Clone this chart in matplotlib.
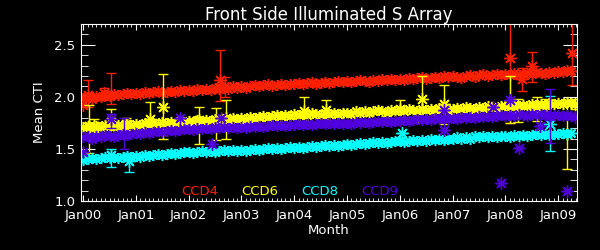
import matplotlib
matplotlib.use("Agg")
import matplotlib.pyplot as plt
import numpy as np
from matplotlib.ticker import MultipleLocator

# monthly mean CTI, Jan 2000 .. Apr 2009
ccd4 = [1.99, 2.00, 1.98, 2.01, 2.00, 2.02, 2.01, 2.03, 2.02, 2.03, 2.04, 2.03,
        2.04, 2.03, 2.05, 2.04, 2.05, 2.06, 2.04, 2.05, 2.06, 2.05, 2.07, 2.06,
        2.07, 2.06, 2.08, 2.07, 2.08, 2.07, 2.09, 2.08, 2.09, 2.08, 2.10, 2.09,
        2.10, 2.09, 2.10, 2.11, 2.10, 2.11, 2.12, 2.10, 2.11, 2.12, 2.11, 2.12,
        2.12, 2.13, 2.12, 2.13, 2.14, 2.12, 2.13, 2.14, 2.13, 2.14, 2.15, 2.14,
        2.15, 2.14, 2.15, 2.16, 2.15, 2.14, 2.16, 2.15, 2.17, 2.16, 2.17, 2.16,
        2.17, 2.16, 2.18, 2.17, 2.18, 2.19, 2.17, 2.18, 2.19, 2.18, 2.20, 2.19,
        2.20, 2.19, 2.18, 2.20, 2.21, 2.19, 2.21, 2.22, 2.20, 2.21, 2.22, 2.21,
        2.22, 2.21, 2.23, 2.21, 2.22, 2.23, 2.22, 2.24, 2.23, 2.22, 2.24, 2.23,
        2.25, 2.24, 2.26, 2.25]
ccd6 = [1.71, 1.72, 1.70, 1.72, 1.71, 1.73, 1.72, 1.71, 1.73, 1.72, 1.74, 1.73,
        1.74, 1.73, 1.75, 1.74, 1.75, 1.74, 1.76, 1.75, 1.76, 1.75, 1.77, 1.76,
        1.77, 1.76, 1.78, 1.77, 1.78, 1.77, 1.79, 1.78, 1.79, 1.78, 1.80, 1.79,
        1.80, 1.79, 1.81, 1.80, 1.81, 1.82, 1.81, 1.82, 1.83, 1.82, 1.83, 1.82,
        1.84, 1.83, 1.84, 1.83, 1.85, 1.84, 1.83, 1.85, 1.84, 1.85, 1.84, 1.85,
        1.85, 1.84, 1.86, 1.85, 1.86, 1.85, 1.86, 1.87, 1.86, 1.85, 1.87, 1.86,
        1.87, 1.86, 1.88, 1.87, 1.86, 1.88, 1.87, 1.88, 1.87, 1.89, 1.88, 1.87,
        1.88, 1.89, 1.88, 1.90, 1.89, 1.88, 1.90, 1.89, 1.91, 1.90, 1.89, 1.91,
        1.91, 1.90, 1.92, 1.91, 1.92, 1.91, 1.93, 1.92, 1.93, 1.92, 1.94, 1.93,
        1.94, 1.93, 1.95, 1.94]
ccd8 = [1.39, 1.40, 1.41, 1.40, 1.41, 1.42, 1.41, 1.42, 1.41, 1.42, 1.43, 1.42,
        1.43, 1.42, 1.44, 1.43, 1.44, 1.45, 1.44, 1.45, 1.46, 1.45, 1.46, 1.47,
        1.47, 1.46, 1.47, 1.48, 1.47, 1.48, 1.47, 1.48, 1.49, 1.48, 1.49, 1.48,
        1.49, 1.48, 1.49, 1.50, 1.49, 1.50, 1.51, 1.50, 1.51, 1.50, 1.51, 1.52,
        1.51, 1.52, 1.51, 1.52, 1.53, 1.52, 1.53, 1.54, 1.53, 1.54, 1.53, 1.54,
        1.55, 1.54, 1.55, 1.56, 1.55, 1.56, 1.57, 1.56, 1.57, 1.56, 1.57, 1.58,
        1.58, 1.57, 1.58, 1.59, 1.58, 1.59, 1.58, 1.60, 1.59, 1.60, 1.59, 1.60,
        1.60, 1.61, 1.60, 1.61, 1.60, 1.62, 1.61, 1.62, 1.61, 1.62, 1.61, 1.62,
        1.62, 1.61, 1.63, 1.62, 1.63, 1.62, 1.63, 1.64, 1.63, 1.64, 1.63, 1.64,
        1.64, 1.65, 1.64, 1.65]
ccd9 = [1.61, 1.62, 1.60, 1.62, 1.61, 1.63, 1.62, 1.61, 1.63, 1.64, 1.63, 1.64,
        1.65, 1.64, 1.66, 1.65, 1.66, 1.67, 1.66, 1.67, 1.68, 1.67, 1.68, 1.69,
        1.69, 1.68, 1.70, 1.69, 1.70, 1.69, 1.71, 1.70, 1.71, 1.70, 1.71, 1.70,
        1.71, 1.70, 1.72, 1.71, 1.72, 1.71, 1.72, 1.73, 1.72, 1.73, 1.72, 1.73,
        1.73, 1.74, 1.73, 1.74, 1.73, 1.74, 1.75, 1.74, 1.75, 1.74, 1.75, 1.74,
        1.75, 1.74, 1.76, 1.75, 1.76, 1.75, 1.76, 1.77, 1.76, 1.77, 1.76, 1.77,
        1.77, 1.78, 1.77, 1.78, 1.79, 1.78, 1.79, 1.78, 1.80, 1.79, 1.80, 1.79,
        1.80, 1.79, 1.81, 1.80, 1.81, 1.80, 1.82, 1.81, 1.82, 1.81, 1.82, 1.83,
        1.82, 1.83, 1.82, 1.84, 1.83, 1.82, 1.84, 1.83, 1.84, 1.83, 1.82, 1.83,
        1.83, 1.82, 1.83, 1.82]

# scattered points with error bars (years since Jan00, value, low, high)
ccd4_ex = [0.0, 0.10, 0.40, 0.53, 2.59, 2.68, 8.09, 8.31, 8.50, 9.26]
ccd4_ey = [1.92, 2.02, 2.04, 2.02, 2.16, 2.10, 2.37, 2.17, 2.30, 2.42]
ccd4_lo = [1.92, 1.90, 1.97, 1.93, 1.96, 2.00, 1.75, 2.06, 2.14, 2.11]
ccd4_hi = [1.92, 2.16, 2.09, 2.23, 2.45, 2.19, 2.75, 2.28, 2.43, 2.75]

ccd6_ex = [0.11, 0.21, 0.53, 0.81, 1.27, 1.52, 2.20, 2.52, 2.71, 4.19,
           4.60, 6.00, 6.42, 6.84, 8.09, 8.24, 8.60, 8.77, 9.17, 9.32]
ccd6_ey = [1.72, 1.72, 1.76, 1.74, 1.79, 1.90, 1.78, 1.78, 1.80, 1.86,
           1.87, 1.88, 1.98, 1.93, 1.90, 1.88, 1.90, 1.92, 1.64, 1.93]
ccd6_lo = [1.46, 1.66, 1.70, 1.68, 1.66, 1.60, 1.55, 1.59, 1.60, 1.76,
           1.78, 1.80, 1.76, 1.74, 1.75, 1.76, 1.77, 1.85, 1.31, 1.88]
ccd6_hi = [1.92, 1.79, 1.88, 1.80, 1.95, 2.22, 1.90, 1.89, 1.97, 2.00,
           1.97, 1.97, 2.20, 2.11, 2.20, 1.98, 2.00, 1.98, 1.97, 1.98]

ccd8_ex = [0.53, 0.87, 6.04, 8.84]
ccd8_ey = [1.44, 1.38, 1.65, 1.74]
ccd8_lo = [1.33, 1.28, 1.65, 1.48]
ccd8_hi = [1.50, 1.46, 1.65, 2.01]

ccd9_ex = [0.0, 0.53, 0.78, 1.84, 2.44, 2.61, 6.84, 6.84, 7.76, 7.92,
           8.09, 8.26, 8.65, 8.84, 9.17, 9.32]
ccd9_ey = [1.47, 1.79, 1.63, 1.80, 1.55, 1.80, 1.87, 1.68, 1.90, 1.17,
           1.97, 1.51, 1.72, 1.82, 1.10, 1.81]
ccd9_lo = [1.47, 1.70, 1.50, 1.80, 1.55, 1.80, 1.87, 1.68, 1.90, 1.17,
           1.97, 1.51, 1.72, 1.56, 1.10, 1.81]
ccd9_hi = [1.47, 1.84, 1.80, 1.80, 1.55, 1.80, 1.87, 1.68, 1.90, 1.17,
           1.97, 1.51, 1.72, 2.08, 1.10, 1.81]

names = ['CCD4', 'CCD6', 'CCD8', 'CCD9']
colors = ['#ff2000', '#ffff00', '#00ffff', '#5000dc']
tick_labels = ['Jan00', 'Jan01', 'Jan02', 'Jan03', 'Jan04',
               'Jan05', 'Jan06', 'Jan07', 'Jan08', 'Jan09']

series = [ccd4, ccd6, ccd8, ccd9]
extras = [(ccd4_ex, ccd4_ey, ccd4_lo, ccd4_hi),
          (ccd6_ex, ccd6_ey, ccd6_lo, ccd6_hi),
          (ccd8_ex, ccd8_ey, ccd8_lo, ccd8_hi),
          (ccd9_ex, ccd9_ey, ccd9_lo, ccd9_hi)]

fig = plt.figure(figsize=(6, 2.5), dpi=100, facecolor='black')
ax = fig.add_axes([0.135, 0.196, 0.827, 0.708], facecolor='black')

star = (8, 2, 0)
for vals, (ex, ey, lo, hi), c in zip(series, extras, colors):
    x = np.arange(len(vals)) / 12.0
    ax.plot(x, vals, ls='none', marker=star, ms=8, mew=1.1, color=c)
    ey = np.array(ey)
    yerr = [ey - np.array(lo), np.array(hi) - ey]
    ax.errorbar(ex, ey, yerr=yerr, fmt='none', ecolor=c, elinewidth=1,
                capsize=3.5, capthick=1)
    ax.plot(ex, ey, ls='none', marker=star, ms=9, mew=1, color=c)

ax.set_xlim(-0.04, 9.36)
ax.set_ylim(1.0, 2.7)
ax.set_xticks(range(len(tick_labels)))
ax.set_xticklabels(tick_labels)
ax.xaxis.set_minor_locator(MultipleLocator(1 / 12.0))
ax.set_yticks([1.0, 1.5, 2.0, 2.5])
ax.set_yticklabels(['1.0', '1.5', '2.0', '2.5'])
ax.yaxis.set_minor_locator(MultipleLocator(0.1))

for s in ax.spines.values():
    s.set_color('white')
ax.tick_params(which='both', colors='white', labelsize=9.5, direction='in',
               top=True, right=True)
ax.tick_params(axis='x', which='major', length=4, pad=6)
ax.tick_params(axis='x', which='minor', length=2)
ax.tick_params(axis='y', which='major', length=10, pad=4)
ax.tick_params(axis='y', which='minor', length=5)

ax.set_title('Front Side Illuminated S Array', color='white', fontsize=12, pad=3)
ax.set_xlabel('Month', color='white', fontsize=9.5, labelpad=1)
ax.set_ylabel('Mean CTI', color='white', fontsize=9.5, labelpad=6)

for i, (n, c) in enumerate(zip(names, colors)):
    ax.text(0.202 + i * 0.121, 0.015, n, color=c, fontsize=9.5,
            transform=ax.transAxes, ha='left', va='bottom')

fig.savefig('out.png', dpi=100, facecolor='black')
